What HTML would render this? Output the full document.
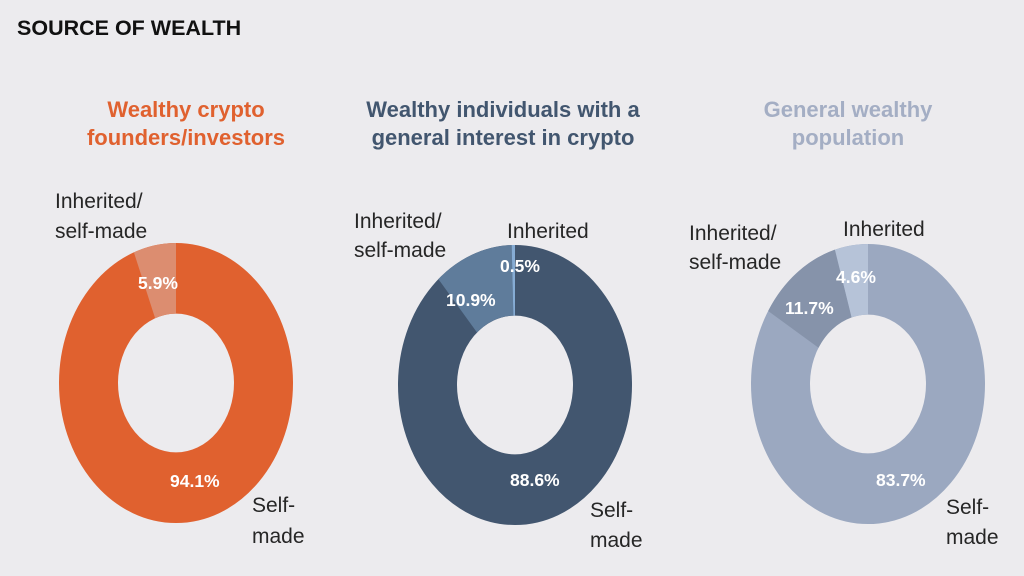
<!DOCTYPE html>
<html><head><meta charset="utf-8"><style>
html,body{margin:0;padding:0;background:#ecebee;}
svg{display:block;font-family:"Liberation Sans",sans-serif;}
.t{font-weight:bold;font-size:22px;text-anchor:middle}
.l{font-size:21px;fill:#262626}
.p{font-size:17.5px;font-weight:bold;fill:#fff}
</style></head><body>
<svg width="1024" height="576" viewBox="0 0 1024 576">
<rect width="1024" height="576" fill="#ecebee"/>
<text x="17" y="35" font-size="21.5" font-weight="bold" fill="#111">SOURCE OF WEALTH</text>

<text class="t" x="186" y="117" fill="#e0612f">Wealthy crypto</text>
<text class="t" x="186" y="145" fill="#e0612f">founders/investors</text>
<text class="t" x="503" y="117" fill="#42566f">Wealthy individuals with a</text>
<text class="t" x="503" y="145" fill="#42566f">general interest in crypto</text>
<text class="t" x="848" y="117" fill="#a4aec4">General wealthy</text>
<text class="t" x="848" y="145" fill="#a4aec4">population</text>

<g transform="translate(176,383) scale(1,1.197) rotate(-90)" fill="none" stroke-width="59">
<circle r="87.5" stroke="#e0612f"/>
<circle r="87.5" stroke="#dc8d70" stroke-dasharray="32.44 600" stroke-dashoffset="-517.34"/>
</g>
<g transform="translate(515,385) scale(1,1.197) rotate(-90)" fill="none" stroke-width="59">
<circle r="87.5" stroke="#42566f"/>
<circle r="87.5" stroke="#5f7c9b" stroke-dasharray="59.93 600" stroke-dashoffset="-487.11"/>
<circle r="87.5" stroke="#86acd4" stroke-dasharray="2.75 600" stroke-dashoffset="-547.03"/>
</g>
<g transform="translate(868,384) scale(1,1.197) rotate(-90)" fill="none" stroke-width="59">
<circle r="87.5" stroke="#9ba8c0"/>
<circle r="87.5" stroke="#8693aa" stroke-dasharray="64.32 600" stroke-dashoffset="-460.17"/>
<circle r="87.5" stroke="#b6c3d8" stroke-dasharray="25.29 600" stroke-dashoffset="-524.49"/>
</g>

<text class="l" x="55" y="208">Inherited/</text>
<text class="l" x="55" y="238">self-made</text>
<text class="l" x="252" y="512">Self-</text>
<text class="l" x="252" y="543">made</text>

<text class="l" x="354" y="228">Inherited/</text>
<text class="l" x="354" y="257">self-made</text>
<text class="l" x="507" y="238">Inherited</text>
<text class="l" x="590" y="517">Self-</text>
<text class="l" x="590" y="547">made</text>

<text class="l" x="689" y="240">Inherited/</text>
<text class="l" x="689" y="269">self-made</text>
<text class="l" x="843" y="236">Inherited</text>
<text class="l" x="946" y="514">Self-</text>
<text class="l" x="946" y="544">made</text>

<text class="p" x="138" y="289">5.9%</text>
<text class="p" x="170" y="487">94.1%</text>
<text class="p" x="446" y="306">10.9%</text>
<text class="p" x="500" y="272">0.5%</text>
<text class="p" x="510" y="486">88.6%</text>
<text class="p" x="836" y="283">4.6%</text>
<text class="p" x="785" y="314">11.7%</text>
<text class="p" x="876" y="486">83.7%</text>
</svg>
</body></html>
